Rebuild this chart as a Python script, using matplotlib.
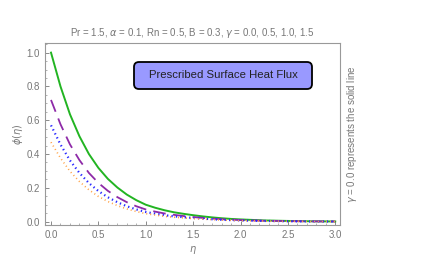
import numpy as np
import matplotlib
matplotlib.use("Agg")
import matplotlib.pyplot as plt
from matplotlib.patches import FancyBboxPatch
from matplotlib.transforms import IdentityTransform

plt.rcParams['font.family'] = ['Liberation Sans', 'DejaVu Sans']

eta = [0.0, 0.1, 0.2, 0.3, 0.4, 0.5, 0.6, 0.7, 0.8, 0.9, 1.0, 1.1, 1.2, 1.3,
       1.4, 1.5, 1.6, 1.7, 1.8, 1.9, 2.0, 2.25, 2.5, 2.75, 3.0]
phi_g00 = [1.0, .80, .635, .505, .40, .318, .253, .202, .160, .127, .100, .082,
           .067, .055, .046, .038, .031, .025, .020, .016, .013, .007, .004, .002, .001]
phi_g05 = [.72, .576, .457, .364, .288, .229, .182, .145, .115, .091, .072, .059,
           .048, .040, .033, .027, .022, .018, .014, .012, .009, .005, .003, .0015, .001]
phi_g10 = [.57, .456, .362, .288, .228, .181, .144, .115, .091, .072, .057, .047,
           .038, .031, .026, .022, .018, .014, .011, .009, .007, .004, .002, .001, .0005]
phi_g15 = [.47, .376, .298, .237, .188, .149, .119, .095, .075, .060, .047, .039,
           .031, .026, .022, .018, .015, .012, .009, .008, .006, .003, .002, .001, .0005]

gray = '#777777'
fig = plt.figure(figsize=(4.29, 2.63), dpi=100)
ax = fig.add_axes([0.105, 0.1445, 0.6875, 0.692])

ax.plot(eta, phi_g00, color='#22b422', lw=1.4)
ax.plot(eta, phi_g05, color='#8e2aa8', lw=1.3, dashes=(7, 4))
ax.plot(eta, phi_g10, color='#2a2aff', lw=1.6, linestyle=(0, (0.6, 1.4)))
ax.plot(eta, phi_g15, color='#ffa040', lw=1.2, linestyle=(0, (0.6, 1.8)))

ax.set_xlim(-0.063, 3.05)
ax.set_ylim(-0.02, 1.057)
ax.set_xticks([0.0, 0.5, 1.0, 1.5, 2.0, 2.5, 3.0])
ax.set_yticks([0.0, 0.2, 0.4, 0.6, 0.8, 1.0])
ax.set_xticklabels(['0.0', '0.5', '1.0', '1.5', '2.0', '2.5', '3.0'])
ax.set_yticklabels(['0.0', '0.2', '0.4', '0.6', '0.8', '1.0'])
ax.minorticks_on()
ax.tick_params(which='both', direction='in', colors=gray, labelsize=7, labelcolor=gray)
ax.tick_params(which='major', length=3, width=0.6)
ax.tick_params(which='minor', length=1.5, width=0.4)
for s in ax.spines.values():
    s.set_color('#999999')
    s.set_linewidth(0.8)

ax.set_xlabel(r'$\eta$', color=gray, fontsize=7, labelpad=3)
ax.set_ylabel(r'$\phi(\eta)$', color=gray, fontsize=7, labelpad=1)
ax.set_title(r'Pr = 1.5, $\alpha$ = 0.1, Rn = 0.5, B = 0.3, $\gamma$ = 0.0, 0.5, 1.0, 1.5',
             color=gray, fontsize=7, pad=5)

# annotation box, in figure pixels
box = FancyBboxPatch((134, 263 - 89), 178, 27,
                     boxstyle='round,pad=0,rounding_size=5',
                     fc='#9999ff', ec='black', lw=1.3,
                     transform=IdentityTransform())
fig.add_artist(box)
fig.text(223 / 429, 1 - 75.5 / 263, 'Prescribed Surface Heat Flux',
         ha='center', va='center', fontsize=8.2, color='#222222')

fig.text(352 / 429, 1 - 134 / 263, r'$\gamma$ = 0.0 represents the solid line',
         rotation=90, ha='center', va='center', fontsize=7, color=gray)

fig.savefig('out.png', dpi=100)
